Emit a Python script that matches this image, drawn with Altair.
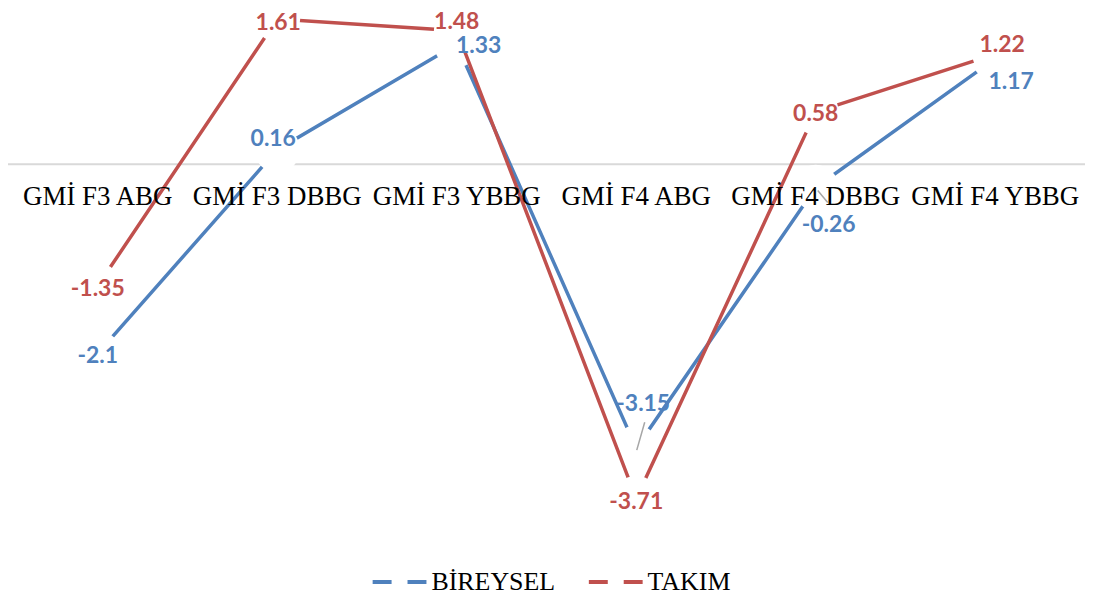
import altair as alt
import pandas as pd

# ---- data ----
categories = ["GMİ F3 ABG", "GMİ F3 DBBG", "GMİ F3 YBBG",
              "GMİ F4 ABG", "GMİ F4 DBBG", "GMİ F4 YBBG"]
series_names = ["BİREYSEL", "TAKIM"]
bireysel = [-2.1, 0.16, 1.33, -3.15, -0.26, 1.17]
takim = [-1.35, 1.61, 1.48, -3.71, 0.58, 1.22]

# ---- styling ----
colors = ["#4F81BD", "#C0504D"]
# label nudges (dx, dy) in pixels, per point
label_nudge = {
    "BİREYSEL": [(0, 3), (-4, -11), (22, 2), (7, -44), (13, 38), (16, 23)],
    "TAKIM": [(0, 3), (1, 4), (0, -9), (0, 3), (0, 2), (7, -9)],
}
# leader lines (pixel offsets from the point: start dx, dy, end dx, dy)
leaders = {("BİREYSEL", 3): (0.5, 2, 8.5, -26), ("BİREYSEL", 4): (2, 3, 12, 15)}

W, H = 1081, 590
YMAX = 1.72
PX_PER_UNIT = 90.48
YMIN = YMAX - H / PX_PER_UNIT

rows = []
for name, vals in zip(series_names, [bireysel, takim]):
    for i, (c, v) in enumerate(zip(categories, vals)):
        rows.append({"cat": c, "value": v, "series": name, "idx": i, "label": f"{v:g}"})
df = pd.DataFrame(rows)

base = alt.Chart(df)

x_scale = alt.Scale(type="point", domain=categories, padding=0.5)
y_scale = alt.Scale(domain=[YMIN, YMAX], nice=False, zero=False)

x_enc = alt.X("cat:N", sort=categories, scale=x_scale, axis=None)
y_enc = alt.Y("value:Q", scale=y_scale, axis=None)

color_enc = alt.Color(
    "series:N",
    scale=alt.Scale(domain=series_names, range=colors),
    legend=alt.Legend(
        orient="none", legendX=364, legendY=546, direction="horizontal",
        title=None, symbolType="stroke", symbolSize=2916, symbolStrokeWidth=4,
        symbolDash=[19, 16], labelFont="Liberation Serif", labelFontSize=26,
        labelColor="black", labelOffset=3, columnPadding=25, padding=0, labelLimit=0,
    ),
)

# category axis line at zero
zero_rule = base.transform_filter(
    (alt.datum.idx == 0) & (alt.datum.series == "TAKIM")
).transform_calculate(zero="0").mark_rule(color="#d9d9d9", strokeWidth=2).encode(
    y=alt.Y("zero:Q", scale=y_scale, axis=None)
)

layers = [zero_rule]
for name in series_names:
    sub = base.transform_filter(alt.datum.series == name)
    line = sub.mark_line(strokeWidth=3.5).encode(x=x_enc, y=y_enc, color=color_enc)
    gaps = sub.mark_point(shape="circle", filled=True, color="white",
                          size=2116, opacity=1, strokeWidth=0).encode(x=x_enc, y=y_enc)
    layers += [line, gaps]

for name, col in zip(series_names, colors):
    for i in range(len(categories)):
        dx, dy = label_nudge[name][i]
        t = base.transform_filter(
            (alt.datum.series == name) & (alt.datum.idx == i)
        ).mark_text(
            dx=dx, dy=dy, font="Lato", fontWeight="bold", fontSize=23,
            color=col, align="center", baseline="middle",
        ).encode(x=x_enc, y=y_enc, text="label:N")
        layers.append(t)

# category labels sitting under the zero line
cat_labels = base.transform_filter(alt.datum.series == "TAKIM").transform_calculate(
    zero="0"
).mark_text(
    font="Liberation Serif", fontSize=27, fontWeight="normal", color="black",
    align="center", baseline="alphabetic", dy=41,
).encode(x=x_enc, y=alt.Y("zero:Q", scale=y_scale, axis=None), text="cat:N")
layers.append(cat_labels)

# small gray leader lines from moved labels
for (name, i), (sx, sy, ex, ey) in leaders.items():
    lead = base.transform_filter(
        (alt.datum.series == name) & (alt.datum.idx == i)
    ).mark_rule(color="#a6a6a6", strokeWidth=1.5,
                xOffset=sx, yOffset=sy, x2Offset=ex, y2Offset=ey).encode(
        x=x_enc, x2=alt.X2("cat:N"), y=y_enc, y2=alt.Y2("value:Q")
    )
    layers.append(lead)

chart = alt.layer(*layers).properties(
    width=W, height=H,
    autosize=alt.AutoSizeParams(type="none"),
    padding=0,
    background="white",
).configure_view(stroke=None)

chart.save("out.html", embed_options={"renderer": "svg", "actions": False})
